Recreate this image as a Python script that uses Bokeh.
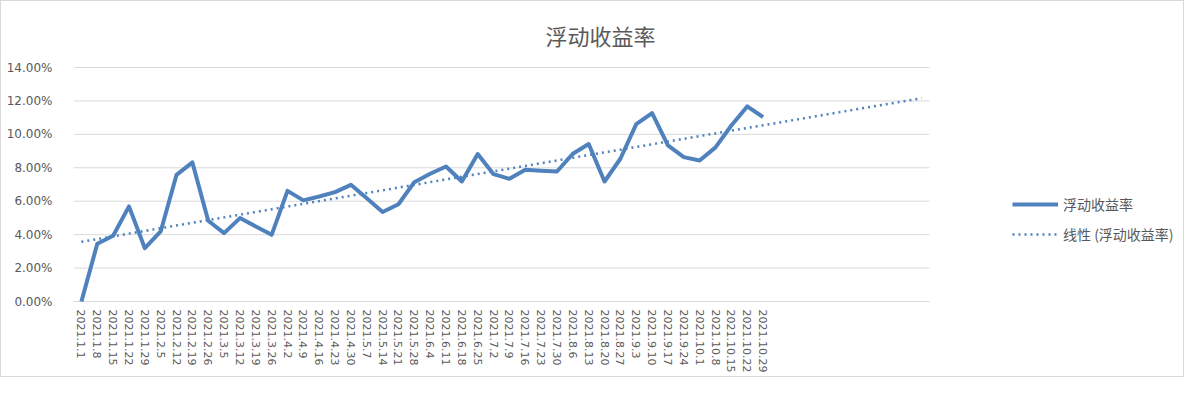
import math
import numpy as np
from bokeh.plotting import figure
from bokeh.models import (FixedTicker, PrintfTickFormatter, Legend, LegendItem, Label, Range1d)
from bokeh.embed import file_html
from bokeh.resources import INLINE
from bokeh.core.properties import value

# ---------------- data ----------------
dates = ["2021.1.1", "2021.1.8", "2021.1.15", "2021.1.22", "2021.1.29",
         "2021.2.5", "2021.2.12", "2021.2.19", "2021.2.26",
         "2021.3.5", "2021.3.12", "2021.3.19", "2021.3.26",
         "2021.4.2", "2021.4.9", "2021.4.16", "2021.4.23", "2021.4.30",
         "2021.5.7", "2021.5.14", "2021.5.21", "2021.5.28",
         "2021.6.4", "2021.6.11", "2021.6.18", "2021.6.25",
         "2021.7.2", "2021.7.9", "2021.7.16", "2021.7.23", "2021.7.30",
         "2021.8.6", "2021.8.13", "2021.8.20", "2021.8.27",
         "2021.9.3", "2021.9.10", "2021.9.17", "2021.9.24",
         "2021.10.1", "2021.10.8", "2021.10.15", "2021.10.22", "2021.10.29"]
rate = [0.00, 3.45, 3.93, 5.69, 3.19, 4.19, 7.58, 8.32, 4.83, 4.09,
        4.99, 4.49, 3.99, 6.62, 6.05, 6.28, 6.54, 6.98, 6.18, 5.35,
        5.82, 7.14, 7.64, 8.08, 7.18, 8.82, 7.62, 7.34, 7.88, 7.82,
        7.78, 8.84, 9.42, 7.18, 8.54, 10.61, 11.27, 9.34, 8.64, 8.44,
        9.22, 10.53, 11.67, 11.03]
empty_slots = 10          # blank categories after the last date
y_ticks = [0, 2, 4, 6, 8, 10, 12, 14]
series_name = "浮动收益率"
trend_name = "线性 (浮动收益率)"

n = len(rate)
total = n + empty_slots
xs = list(range(n))
coef = np.polyfit(xs, rate, 1)
trend_x = list(range(total))
trend_y = list(np.polyval(coef, trend_x))

# ---------------- layout (pixels) ----------------
W, H = 1184, 377
LEFT = 72            # plot-area left edge
PLOT_W = 856         # width of plot area holding the categories
BOTTOM = 300         # y of the 0 % line
PLOT_H = 234         # height from 0 % to 14 %
frame_w = W - LEFT
px_x = total / PLOT_W                 # data units per pixel (x)
px_y = y_ticks[-1] / PLOT_H           # data units per pixel (y)
x_end = -0.5 + frame_w * px_x
y_end = BOTTOM * px_y
y_start = -(H - BOTTOM) * px_y

BLUE = "#4f81bd"
GRAY = "#595959"
GRID = "#d9d9d9"

p = figure(width=W, height=H, output_backend="svg", toolbar_location=None,
           x_range=Range1d(-0.5, x_end), y_range=Range1d(y_start, y_end),
           min_border_left=LEFT, min_border_right=0, min_border_top=0,
           min_border_bottom=0, background_fill_color="white",
           border_fill_color="white")
p.outline_line_color = None
p.styles = {"border": "1px solid #d9d9d9", "box-sizing": "border-box"}
p.xaxis.visible = False
p.xgrid.grid_line_color = None
p.ygrid.grid_line_color = None

# horizontal gridlines limited to the category area
p.segment(x0=[-0.5] * len(y_ticks), y0=y_ticks,
          x1=[total - 0.5] * len(y_ticks), y1=y_ticks,
          line_color=GRID, line_width=1)

yax = p.yaxis[0]
yax.ticker = FixedTicker(ticks=y_ticks)
yax.formatter = PrintfTickFormatter(format="%.2f%%")
yax.axis_line_color = None
yax.major_tick_line_color = None
yax.minor_tick_line_color = None
yax.major_label_standoff = 15
yax.major_label_text_font = "DejaVu Sans"
yax.major_label_text_font_size = "12px"
yax.major_label_text_color = GRAY

# category labels, rotated, below the 0 % line
p.text(x=xs, y=[-8 * px_y] * n, text=dates, angle=-math.pi / 2,
       text_align="left", text_baseline="middle",
       text_font=value("DejaVu Sans"), text_font_size="11px",
       text_color=GRAY)

r_line = p.line(xs, rate, line_color=BLUE, line_width=4, line_join="round")
r_trend = p.line(trend_x, trend_y, line_color=BLUE, line_width=2.5,
                 line_dash="2 4")

# chart title, centred on the whole chart
p.add_layout(Label(x=-0.5 + (599 - LEFT) * px_x, y=(BOTTOM - 33) * px_y,
                   text=series_name, text_align="center",
                   text_baseline="middle", text_font="Noto Sans CJK SC",
                   text_font_size="22px", text_color=GRAY))

legend = Legend(items=[LegendItem(label=series_name, renderers=[r_line]),
                       LegendItem(label=trend_name, renderers=[r_trend])],
                location=(1011 - LEFT, H - 243), orientation="vertical")
legend.border_line_color = None
legend.background_fill_alpha = 0
legend.padding = 0
legend.margin = 0
legend.spacing = 10
legend.glyph_width = 46
legend.glyph_height = 20
legend.label_height = 20
legend.label_standoff = 5
legend.label_text_font = "Noto Sans CJK SC"
legend.label_text_font_size = "14px"
legend.label_text_color = GRAY
p.add_layout(legend, "center")

open("out.html", "w").write(file_html(p, INLINE))
